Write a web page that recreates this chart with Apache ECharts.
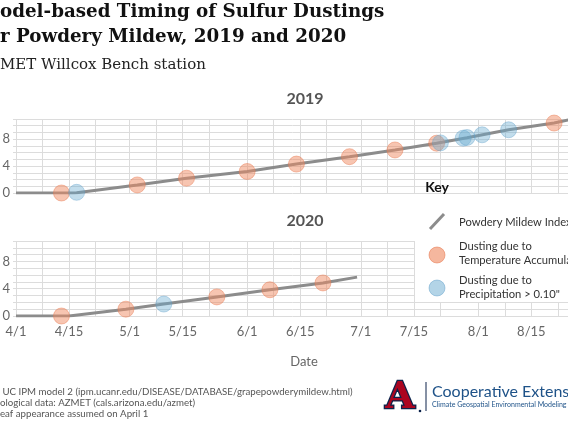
<!DOCTYPE html>
<html><head><meta charset="utf-8">
<script src="https://cdn.jsdelivr.net/npm/echarts@6/dist/echarts.min.js"></script>
<style>html,body{margin:0;padding:0;background:#fff}#c{width:568px;height:426px}</style>
</head><body><div id="c"></div>
<script>
// ---- axis domain: dates from April 1 (leaf appearance) ----
const monthLengths = [['4', 30], ['5', 31], ['6', 30], ['7', 31], ['8', 31]];
const categories = [];
monthLengths.forEach(([m, n]) => { for (let d = 1; d <= n; d++) categories.push(m + '/' + d); });
const gridDays = [1, 8, 15, 22];
const labelDays = [1, 15];
const yTickLabels = [0, 4, 8];

// ---- 2019 ----
const index2019 = [['4/1', 0], ['4/16', 0], ['4/17', 0.05], ['5/3', 1.2], ['5/16', 2.2], ['6/1', 3.2],
  ['6/14', 4.3], ['6/28', 5.4], ['7/10', 6.4], ['7/21', 7.4], ['7/29', 8.2], ['8/9', 9.4], ['8/21', 10.4], ['8/26', 11.0]];
const temp2019 = [['4/13', 0], ['5/3', 1.2], ['5/16', 2.2], ['6/1', 3.2], ['6/14', 4.3], ['6/28', 5.4],
  ['7/10', 6.4], ['7/21', 7.4], ['8/21', 10.4]];
const precip2019 = [['4/17', 0.1], ['7/22', 7.45], ['7/28', 8.15], ['7/29', 8.25], ['8/2', 8.65], ['8/9', 9.4]];

// ---- 2020 ----
const index2020 = [['4/1', 0], ['4/15', 0], ['4/30', 1.0], ['5/10', 1.75], ['5/24', 2.8], ['6/7', 3.85],
  ['6/21', 4.85], ['6/30', 5.7]];
const temp2020 = [['4/13', 0], ['4/30', 1.0], ['5/24', 2.8], ['6/7', 3.85], ['6/21', 4.85]];
const precip2020 = [['5/10', 1.75]];

const titleLines = ['odel-based Timing of Sulfur Dustings', 'r Powdery Mildew, 2019 and 2020'];
const subtitle = 'MET Willcox Bench station';
const footerLines = [' UC IPM model 2 (ipm.ucanr.edu/DISEASE/DATABASE/grapepowderymildew.html)',
  'ological data: AZMET (cals.arizona.edu/azmet)', 'eaf appearance assumed on April 1'];
const legendLabels = ['Powdery Mildew Index', ['Dusting due to', 'Temperature Accumulation'], ['Dusting due to', 'Precipitation > 0.10"']];

const GRID = '#dcdcdc', LABEL = '#666', LINE = '#8c8c8c';
const ORANGE = 'rgba(239,138,98,0.62)', ORANGE_B = 'rgba(232,120,80,0.55)';
const BLUE = 'rgba(103,169,207,0.5)', BLUE_B = 'rgba(90,155,200,0.45)';
const SANS = 'Lato';

function dayOf(v) { return +String(v).split('/')[1]; }
function xAxis(gi, showLabels) {
  return {
    type: 'category', gridIndex: gi, data: categories, boundaryGap: false,
    axisLine: { show: false }, axisTick: { show: false },
    splitLine: { show: true, interval: (i, v) => gridDays.includes(dayOf(v)), lineStyle: { color: GRID, width: 1 } },
    axisLabel: { show: showLabels, interval: (i, v) => labelDays.includes(dayOf(v)), color: LABEL, fontSize: 13, margin: 9, fontFamily: SANS },
    name: showLabels ? 'Date' : '', nameLocation: 'middle', nameGap: 39,
    nameTextStyle: { color: LABEL, fontSize: 13, fontFamily: SANS }
  };
}
function yAxis(gi) {
  return {
    type: 'value', gridIndex: gi, min: 0, max: 11, interval: 1,
    axisLine: { show: false }, axisTick: { show: true, length: 3, lineStyle: { color: GRID } },
    splitLine: { show: true, lineStyle: { color: GRID, width: 1 } },
    axisLabel: { formatter: v => yTickLabels.includes(v) ? String(v) : '', color: LABEL, fontSize: 13, margin: 6, fontFamily: SANS }
  };
}
function lineSeries(i, data) {
  return { type: 'line', xAxisIndex: i, yAxisIndex: i, data, symbol: 'none', z: 2,
    lineStyle: { color: LINE, width: 3 }, silent: true, animation: false };
}
function dotSeries(i, data, c, b) {
  return { type: 'scatter', xAxisIndex: i, yAxisIndex: i, data, symbolSize: 16, z: 3,
    itemStyle: { color: c, borderColor: b, borderWidth: 1 }, silent: true, animation: false };
}

const chart = echarts.init(document.getElementById('c'), null, { renderer: 'canvas' });
const txt = (x, y, text, font, fill, align, extra) => Object.assign({ type: 'text', x, y, z: 60,
  style: { text, font, fill, align: align || 'left', verticalAlign: 'middle' } }, extra || {});

chart.setOption({
  animation: false,
  backgroundColor: '#fff',
  grid: [
    { left: 16, top: 119, width: 576, height: 74, outerBoundsMode: 'none', containLabel: false },
    { left: 16, top: 241, width: 576, height: 75, outerBoundsMode: 'none', containLabel: false }
  ],
  xAxis: [xAxis(0, false), xAxis(1, true)],
  yAxis: [yAxis(0), yAxis(1)],
  series: [
    lineSeries(0, index2019), dotSeries(0, temp2019, ORANGE, ORANGE_B), dotSeries(0, precip2019, BLUE, BLUE_B),
    lineSeries(1, index2020), dotSeries(1, temp2020, ORANGE, ORANGE_B), dotSeries(1, precip2020, BLUE, BLUE_B)
  ],
  graphic: [
    txt(0, 12, titleLines[0], 'bold 18.3px "DejaVu Serif"', '#111'),
    txt(0, 37, titleLines[1], 'bold 18.3px "DejaVu Serif"', '#111'),
    txt(0, 65, subtitle, '15px "DejaVu Serif"', '#222'),
    txt(305, 99, '2019', 'bold 16px Lato', '#555', 'center'),
    txt(305, 221, '2020', 'bold 16px Lato', '#555', 'center'),
    txt(437, 187, 'Key', 'bold 14px Lato', '#111', 'center'),
    { type: 'rect', z: 50, shape: { x: 415, y: 200, width: 160, height: 102 }, style: { fill: '#fff' } },
    { type: 'line', z: 60, shape: { x1: 430, y1: 229, x2: 444, y2: 214 }, style: { stroke: LINE, lineWidth: 3 } },
    { type: 'circle', z: 60, shape: { cx: 437, cy: 255, r: 8 }, style: { fill: ORANGE, stroke: ORANGE_B } },
    { type: 'circle', z: 60, shape: { cx: 437, cy: 288, r: 8 }, style: { fill: BLUE, stroke: BLUE_B } },
    txt(459, 222, legendLabels[0], '11.2px Lato', '#333'),
    txt(459, 246, legendLabels[1][0], '11.2px Lato', '#333'),
    txt(459, 260, legendLabels[1][1], '11.2px Lato', '#333'),
    txt(459, 280, legendLabels[2][0], '11.2px Lato', '#333'),
    txt(459, 294, legendLabels[2][1], '11.2px Lato', '#333'),
    txt(0, 392, footerLines[0], '9.7px Lato', '#555'),
    txt(0, 403, footerLines[1], '9.7px Lato', '#555'),
    txt(0, 414, footerLines[2], '9.7px Lato', '#555'),
    { type: 'text', x: 400, y: 398, z: 60, style: { text: 'A', font: 'bold 38px "DejaVu Serif"', fill: '#AB0520', stroke: '#0C234B', lineWidth: 2.5, align: 'center', verticalAlign: 'middle' } },
    { type: 'circle', z: 60, shape: { cx: 420, cy: 411, r: 1.3 }, style: { fill: '#0C234B' } },
    { type: 'line', z: 60, shape: { x1: 426, y1: 382, x2: 426, y2: 411 }, style: { stroke: '#0C234B', lineWidth: 1 } },
    txt(432, 392, 'Cooperative Extension', '16px Lato', '#1E5288'),
    txt(432, 405, 'Climate Geospatial Environmental Modeling', '7px Lato', '#1E5288')
  ]
});
</script></body></html>
